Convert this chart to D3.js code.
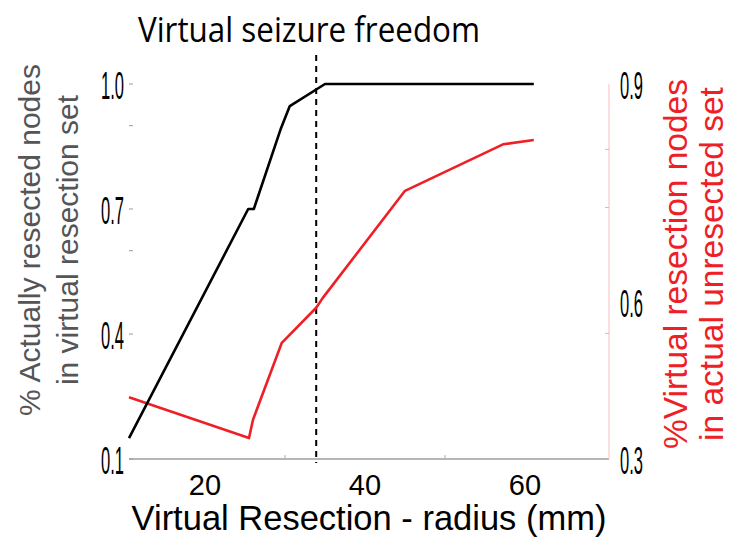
<!DOCTYPE html>
<html>
<head>
<meta charset="utf-8">
<script src="https://cdn.jsdelivr.net/npm/d3@7"></script>
<style>
  body { margin: 0; background: #fff; }
  svg { display: block; }
</style>
</head>
<body>
<svg id="chart" width="731" height="541"></svg>
<script>
// radius (mm) for each series
const blackX = [10.5, 25.4, 26.1, 29.5, 30.6, 35.0, 61.1];
const blackY = [0.15, 0.70, 0.70, 0.894, 0.947, 1.0, 1.0];
const redX = [10.5, 25.5, 26.0, 29.6, 33.9, 34.75, 45.0, 57.25, 61.1];
const redY = [0.418, 0.340, 0.375, 0.522, 0.589, 0.606, 0.753, 0.817, 0.823];
const cutoffX = 33.9;

const xTicks = [20, 40, 60];
const xMinorTicks = [30, 50];
const leftTicks = [0.1, 0.4, 0.7, 1.0];
const leftMinorTicks = [0.6, 0.9];
const rightTicks = [0.3, 0.6, 0.9];
const rightMinorTicks = [0.54, 0.73, 0.81];

const svg = d3.select('#chart');
const plotL = 129, plotR = 609, plotT = 84, plotB = 459;

const x = d3.scaleLinear().domain([10.5, 70.5]).range([plotL, plotR]);
const yL = d3.scaleLinear().domain([0.1, 1.0]).range([plotB, plotT]);
// right axis labels are not evenly spaced in the source figure
const yR = d3.scaleLinear().domain([0.3, 0.6, 0.9]).range([plotB, 302, plotT]);

// x axis
svg.append('line')
  .attr('x1', plotL).attr('x2', plotR).attr('y1', plotB).attr('y2', plotB)
  .attr('stroke', '#6e6e6e').attr('stroke-width', 1.2);
svg.selectAll('.xminor').data(xMinorTicks).enter().append('line')
  .attr('x1', d => x(d)).attr('x2', d => x(d))
  .attr('y1', plotB).attr('y2', plotB - 4)
  .attr('stroke', '#aaa').attr('stroke-width', 1);
svg.selectAll('.xlab').data(xTicks).enter().append('text')
  .attr('x', d => x(d)).attr('y', 495)
  .attr('text-anchor', 'middle')
  .attr('font-family', 'Liberation Sans, Arial, sans-serif')
  .attr('font-size', 29)
  .text(d => d);

// left ticks
svg.selectAll('.lminor').data(leftTicks.concat(leftMinorTicks)).enter().append('line')
  .attr('x1', plotL).attr('x2', plotL + 4)
  .attr('y1', d => yL(d)).attr('y2', d => yL(d))
  .attr('stroke', '#999').attr('stroke-width', 1);
svg.selectAll('.llab').data(leftTicks).enter().append('text')
  .attr('x', 124).attr('y', d => yL(d) + 15)
  .attr('text-anchor', 'end')
  .attr('font-family', 'Liberation Sans Narrow, Arial Narrow, sans-serif')
  .attr('font-size', 39)
  .attr('textLength', 23).attr('lengthAdjust', 'spacingAndGlyphs')
  .text(d => d.toFixed(1));

// right axis
svg.append('line')
  .attr('x1', plotR).attr('x2', plotR).attr('y1', plotT).attr('y2', plotB)
  .attr('stroke', '#f9c9cb').attr('stroke-width', 1.2);
svg.selectAll('.rminor').data(rightMinorTicks).enter().append('line')
  .attr('x1', plotR).attr('x2', plotR - 4)
  .attr('y1', d => yR(d)).attr('y2', d => yR(d))
  .attr('stroke', '#f7a9ad').attr('stroke-width', 1);
svg.selectAll('.rlab').data(rightTicks).enter().append('text')
  .attr('x', 620).attr('y', d => yR(d) + 15)
  .attr('text-anchor', 'start')
  .attr('font-family', 'Liberation Sans Narrow, Arial Narrow, sans-serif')
  .attr('font-size', 39)
  .attr('textLength', 23).attr('lengthAdjust', 'spacingAndGlyphs')
  .text(d => d.toFixed(1));

// cutoff
svg.append('line')
  .attr('x1', x(cutoffX)).attr('x2', x(cutoffX))
  .attr('y1', 55).attr('y2', 463)
  .attr('stroke', '#000').attr('stroke-width', 2)
  .attr('stroke-dasharray', '6,5');

const line = (xs, ys, yScale) => d3.line()
  .x(i => x(xs[i])).y(i => yScale(ys[i]))(d3.range(xs.length));

svg.append('path')
  .attr('d', line(redX, redY, yR))
  .attr('fill', 'none').attr('stroke', '#ee2026').attr('stroke-width', 2.6)
  .attr('stroke-linejoin', 'round');
svg.append('path')
  .attr('d', line(blackX, blackY, yL))
  .attr('fill', 'none').attr('stroke', '#000').attr('stroke-width', 2.6)
  .attr('stroke-linejoin', 'round');

// title
svg.append('text')
  .attr('x', 309).attr('y', 42)
  .attr('text-anchor', 'middle')
  .attr('font-family', 'Open Sans, sans-serif')
  .attr('font-size', 34)
  .attr('textLength', 342).attr('lengthAdjust', 'spacingAndGlyphs')
  .text('Virtual seizure freedom');

// axis titles
svg.append('text')
  .attr('x', 369).attr('y', 530)
  .attr('text-anchor', 'middle')
  .attr('font-family', 'Liberation Sans, Arial, sans-serif')
  .attr('font-size', 34.5)
  .text('Virtual Resection - radius (mm)');

const leftTitle = svg.append('text')
  .attr('transform', 'translate(40,240) rotate(-90)')
  .attr('text-anchor', 'middle')
  .attr('font-family', 'Liberation Sans, Arial, sans-serif')
  .attr('font-size', 30)
  .attr('fill', '#555');
leftTitle.append('tspan').attr('x', 0).attr('dy', 0).text('% Actually resected nodes');
leftTitle.append('tspan').attr('x', 0).attr('dy', 38).text('in virtual resection set');

const rightTitle = svg.append('text')
  .attr('transform', 'translate(687,264) rotate(-90)')
  .attr('text-anchor', 'middle')
  .attr('font-family', 'Liberation Sans, Arial, sans-serif')
  .attr('font-size', 33.5)
  .attr('fill', '#ee2026');
rightTitle.append('tspan').attr('x', 0).attr('dy', 0).text('%Virtual resection nodes');
rightTitle.append('tspan').attr('x', 0).attr('dy', 36).text('in actual unresected set');
</script>
</body>
</html>
